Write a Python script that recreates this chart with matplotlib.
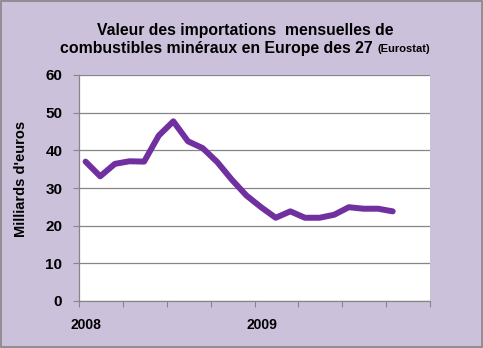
import numpy as np
import matplotlib
matplotlib.use("Agg")
import matplotlib.pyplot as plt
from matplotlib.patches import Rectangle

# valeurs mensuelles (milliards d'euros), janv. 2008 -> oct. 2009
valeurs = [37.0, 33.1, 36.4, 37.1, 37.0, 43.9, 47.7, 42.4, 40.6, 36.9, 32.2,
           28.0, 24.9, 22.1, 23.8, 22.1, 22.1, 22.9, 24.9, 24.5, 24.5, 23.8]
mois = np.arange(len(valeurs)) + 0.45
tick_pos = np.arange(0, 25, 3)
annees = ["2008", "2009"]
annee_pos = [0.5, 12.5]
y_ticks = [0, 10, 20, 30, 40, 50, 60]

fond = "#CCC1DA"
violet = "#7030A0"

plt.rcParams['font.family'] = ['Liberation Sans', 'DejaVu Sans']

fig = plt.figure(figsize=(4.83, 3.48), dpi=100, facecolor=fond)
ax = fig.add_axes([79/483, 1-301/348, 351/483, 226/348])
ax.set_facecolor("white")

ax.plot(mois, valeurs, color=violet, linewidth=4.3, solid_capstyle="round",
        solid_joinstyle="round", zorder=3)

ax.set_xlim(0, 24)
ax.set_ylim(0, 60)
ax.set_yticks(y_ticks)
ax.set_yticklabels([str(v) for v in y_ticks], fontsize=11, fontweight="bold")
# graduations tous les 3 mois, annees centrees sur le premier mois
ax.set_xticks(tick_pos)
ax.set_xticklabels([""] * len(tick_pos))
ax.set_xticks(annee_pos, minor=True)
ax.set_xticklabels(annees, minor=True, fontsize=10, fontweight="bold")
ax.tick_params(axis="x", which="minor", length=0, pad=12)
ax.tick_params(axis="x", which="major", length=4, color="#868686")
ax.tick_params(axis="y", length=4, color="#868686", pad=8)
ax.grid(axis="y", color="#868686", linewidth=0.9)
ax.set_axisbelow(True)
for s in ["top", "right"]:
    ax.spines[s].set_visible(False)
for s in ["left", "bottom"]:
    ax.spines[s].set_color("#868686")
    ax.spines[s].set_linewidth(0.9)

ax.set_ylabel("Milliards d'euros", fontsize=10.5, fontweight="bold")
ax.yaxis.set_label_coords((28-79)/351, 0.54)

fig.text(245/483, 1-30/348, "Valeur des importations  mensuelles de",
         ha="center", va="center", fontsize=11.3, fontweight="bold")
fig.text(373/483, 1-48/348, "combustibles minéraux en Europe des 27",
         ha="right", va="center", fontsize=11.4, fontweight="bold")
fig.text(377/483, 1-49/348, "(Eurostat)", ha="left", va="center",
         fontsize=8, fontweight="bold")

fig.patches.append(Rectangle((0.002, 0.003), 0.995, 0.994, transform=fig.transFigure,
                             fill=False, edgecolor="#868686", linewidth=1.2))

fig.savefig("out.png", dpi=100, facecolor=fond)
